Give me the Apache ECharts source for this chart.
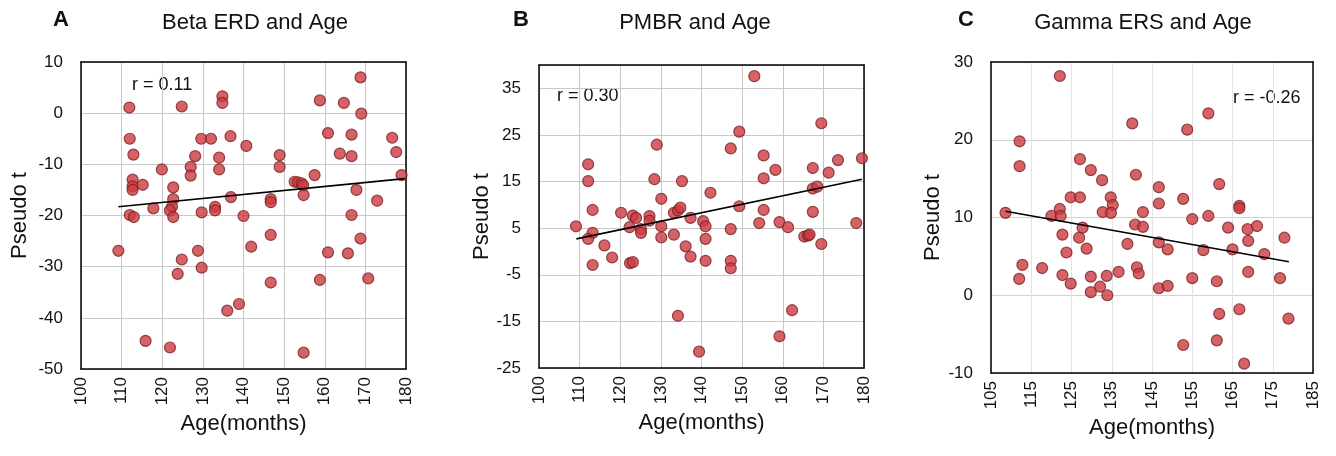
<!DOCTYPE html>
<html>
<head>
<meta charset="utf-8">
<script src="https://cdn.jsdelivr.net/npm/echarts@6/dist/echarts.min.js"></script>
<style>
  html, body { margin: 0; padding: 0; background: #fff; }
  #chart { width: 1336px; height: 456px; }
</style>
</head>
<body>
<div id="chart"></div>
<script>
// 数据: [年龄(月), Pseudo t]
const betaPoints = [
  [109.2, -26.9], [111.9, 1.1], [112, -5], [112.9, -8.1], [112.7, -13], [112.7, -14.3], [112.7, -15],
  [115.2, -14], [112, -19.9], [113, -20.3], [115.9, -44.5], [117.8, -18.6], [119.9, -11], [121.9, -45.8],
  [122.7, -14.5], [122.7, -16.8], [122.4, -18.3], [121.9, -19], [122.7, -20.3], [124.8, 1.3], [124.8, -28.6],
  [123.8, -31.4], [128.1, -8.4], [127, -10.5], [127, -12.2], [128.8, -26.9], [129.6, -5], [132, -5],
  [129.7, -19.4], [129.7, -30.2], [133, -18.3], [133, -19], [134.8, 3.3], [134.8, 2], [134, -8.7], [134, -11],
  [136.8, -4.5], [136.9, -16.4], [136, -38.6], [138.9, -37.3], [140.7, -6.4], [140, -20.1], [141.9, -26.1],
  [146.7, -16.8], [146.7, -17.4], [146.7, -23.8], [146.7, -33.1], [148.9, -8.2], [148.9, -10.5],
  [152.6, -13.4], [153.4, -13.5], [154.3, -13.7], [154.7, -14.1], [154.8, -16], [154.8, -46.8],
  [157.5, -12.1], [158.8, 2.5], [158.8, -32.6], [160.8, -3.9], [160.8, -27.2], [163.7, -7.9], [164.7, 2],
  [165.7, -27.4], [166.6, -4.2], [166.6, -8.4], [166.6, -19.9], [167.8, -15], [168.8, 7], [169, -0.1],
  [168.8, -24.5], [170.7, -32.3], [172.9, -17.1], [176.6, -4.8], [177.6, -7.6], [178.9, -12.1]
];
const betaTrend = [[109.2, -18.3], [179.7, -12.8]];

const pmbrPoints = [
  [109.1, 5.4], [112.1, 18.7], [112.1, 15.1], [113.2, 8.9], [113.2, 4], [112.1, 2.7], [113.2, -2.9],
  [116.1, 1.3], [118, -1.3], [120.2, 8.3], [122.3, 5.2], [123.1, 7.7], [123.9, 7.2], [122.4, -2.5],
  [123.1, -2.3], [125.1, 4.8], [125.1, 4], [127.2, 7.6], [127.2, 6.6], [128.4, 15.5], [129, 22.9],
  [130.1, 11.3], [130.1, 5.4], [130.1, 3], [133.2, 8.3], [133.2, 3.6], [134.2, 8.8], [134.8, 9.4],
  [135.2, 15.1], [134.2, -13.8], [136.1, 1.1], [137.3, 7.2], [137.3, -1.1], [139.4, -21.5], [140.4, 6.5],
  [141, 5.4], [141, 2.7], [141, -2], [142.2, 12.6], [147.2, 22.1], [147.2, 4.8], [147.2, -2], [147.2, -3.6],
  [149.3, 25.7], [149.3, 9.7], [153, 37.6], [154.2, 6.1], [155.3, 20.6], [155.3, 15.7], [155.3, 8.9],
  [158.2, 17.5], [159.2, 6.3], [159.2, -18.2], [161.3, 5.2], [162.3, -12.6], [165.3, 3.2], [166.2, 3.4],
  [166.6, 3.6], [167.4, 17.9], [167.4, 13.5], [168.5, 13.9], [167.4, 8.5], [169.5, 27.5], [169.5, 1.6],
  [171.3, 16.9], [173.6, 19.6], [178.1, 6.1], [179.5, 20]
];
const pmbrTrend = [[109.2, 2.7], [179.5, 15.5]];

const gammaPoints = [
  [108.6, 10.6], [112.1, 19.8], [112.1, 16.6], [112.8, 3.9], [112, 2.1], [117.7, 3.5], [120, 10.2],
  [122.1, 28.2], [122.1, 11.1], [122.3, 10.2], [122.75, 7.8], [122.75, 2.6], [123.75, 5.5], [124.8, 1.5],
  [124.8, 12.6], [127.1, 12.6], [127.1, 17.5], [126.9, 7.4], [127.75, 8.7], [128.75, 6], [129.8, 2.4],
  [129.8, 0.4], [129.8, 16.1], [132.1, 1.1], [132.6, 14.8], [132.75, 10.7], [133.75, 2.5], [133.9, 0],
  [134.75, 12.6], [135.25, 11.6], [134.8, 10.6], [136.7, 3], [138.9, 6.6], [140.1, 22.1], [141, 15.5],
  [140.8, 9.1], [141.25, 3.6], [141.7, 2.8], [142.75, 10.7], [142.75, 8.8], [146.7, 13.9], [146.7, 11.8],
  [146.7, 6.8], [146.7, 0.9], [148.9, 5.9], [148.9, 1.2], [152.75, 12.4], [152.75, -6.4], [153.75, 21.3],
  [155, 9.8], [155, 2.2], [157.75, 5.8], [159, 10.2], [159, 23.4], [161.1, 1.8], [161.1, -5.8],
  [161.7, 14.3], [161.7, -2.4], [163.9, 8.7], [165, 5.9], [166.7, 11.5], [166.7, 11.2], [166.7, -1.8],
  [167.9, -8.8], [168.75, 8.5], [168.9, 7], [168.9, 3], [171.1, 8.9], [172.9, 5.3], [176.8, 2.2],
  [177.9, 7.4], [178.9, -3]
];
const gammaTrend = [[108.6, 10.8], [179, 4.3]];

// 坐标轴范围 [min, max, interval]
const xRanges = [[100, 180, 10], [100, 180, 10], [105, 185, 10]];
const yRanges = [[-50, 10, 10], [-25, 40, 10], [-10, 30, 10]];
const panelTitles = ["Beta ERD and Age", "PMBR and Age", "Gamma ERS and Age"];
const panelLetters = ["A", "B", "C"];
const rLabels = ["r = 0.11", "r = 0.30", "r = -0.26"];

const font = "'Liberation Sans', Arial, sans-serif";
const grids = [
  { left: 81, top: 62, width: 325, height: 307 },
  { left: 539, top: 65, width: 325, height: 303 },
  { left: 991, top: 62, width: 322, height: 311 },
];
const yNameGap = [50, 42, 47];

const myChart = echarts.init(document.getElementById("chart"));

const xAxis = [];
const yAxis = [];
xRanges.forEach((r, i) => {
  xAxis.push({
    gridIndex: i,
    type: "value",
    min: r[0],
    max: r[1],
    interval: r[2],
    name: "Age(months)",
    nameLocation: "middle",
    nameGap: 35,
    nameTextStyle: { fontFamily: font, fontSize: 22, color: "#111" },
    axisLine: { show: true, onZero: false, lineStyle: { color: "#000", width: 1.5 } },
    axisTick: { show: false },
    axisLabel: { rotate: 90, fontFamily: font, fontSize: 17, color: "#111", margin: 8 },
    splitLine: { show: true, lineStyle: { color: i === 2 ? "#e3e3e3" : "#c8c8c8", width: 1 } },
  });
  // 上边框
  xAxis.push({
    gridIndex: i, type: "value", position: "top", min: r[0], max: r[1],
    axisLine: { show: true, onZero: false, lineStyle: { color: "#000", width: 1.5 } },
    axisTick: { show: false }, axisLabel: { show: false }, splitLine: { show: false },
  });
});
yRanges.forEach((r, i) => {
  yAxis.push({
    gridIndex: i,
    type: "value",
    min: r[0],
    max: r[1],
    interval: r[2],
    name: "Pseudo t",
    nameLocation: "middle",
    nameGap: yNameGap[i],
    nameTextStyle: { fontFamily: font, fontSize: 22, color: "#111" },
    axisLine: { show: true, onZero: false, lineStyle: { color: "#000", width: 1.5 } },
    axisTick: { show: false },
    axisLabel: {
      fontFamily: font, fontSize: 17, color: "#111", margin: 18,
      formatter: (v) => (i === 1 && v === 40 ? "" : v),
    },
    splitLine: { show: true, lineStyle: { color: i === 2 ? "#d2d2d2" : "#c8c8c8", width: 1 } },
  });
  // 右边框
  yAxis.push({
    gridIndex: i, type: "value", position: "right", min: r[0], max: r[1],
    axisLine: { show: true, onZero: false, lineStyle: { color: "#000", width: 1.5 } },
    axisTick: { show: false }, axisLabel: { show: false }, splitLine: { show: false },
  });
});

const pointSets = [betaPoints, pmbrPoints, gammaPoints];
const trendSets = [betaTrend, pmbrTrend, gammaTrend];
const series = [];
pointSets.forEach((pts, i) => {
  series.push({
    type: "scatter",
    xAxisIndex: i * 2,
    yAxisIndex: i * 2,
    data: pts,
    symbolSize: 11,
    itemStyle: { color: "#cc3a40", borderColor: "#7a2326", borderWidth: 1.2 },
    z: 3,
  });
  series.push({
    type: "line",
    xAxisIndex: i * 2,
    yAxisIndex: i * 2,
    data: trendSets[i],
    symbol: "none",
    lineStyle: { color: "#000", width: 1.6 },
    z: 4,
  });
});

const titleX = [255, 695, 1143];
const letterX = [53, 513, 958];
const rPos = [[132, 76], [557, 87], [1233, 89]];

const graphic = [];
panelTitles.forEach((t, i) => {
  graphic.push({
    type: "text", x: titleX[i], y: 12,
    style: { text: t, font: "22px " + font, fill: "#111", textAlign: "center", textVerticalAlign: "top" },
  });
  graphic.push({
    type: "text", x: letterX[i], y: 9,
    style: { text: panelLetters[i], font: "bold 22px " + font, fill: "#111", textVerticalAlign: "top" },
  });
  graphic.push({
    type: "text", x: rPos[i][0], y: rPos[i][1],
    style: { text: rLabels[i], font: "18px " + font, fill: "#111", textVerticalAlign: "top" },
  });
});

const option = {
  animation: false,
  backgroundColor: "#fff",
  grid: grids,
  xAxis: xAxis,
  yAxis: yAxis,
  series: series,
  graphic: graphic,
};

myChart.setOption(option);
</script>
</body>
</html>
